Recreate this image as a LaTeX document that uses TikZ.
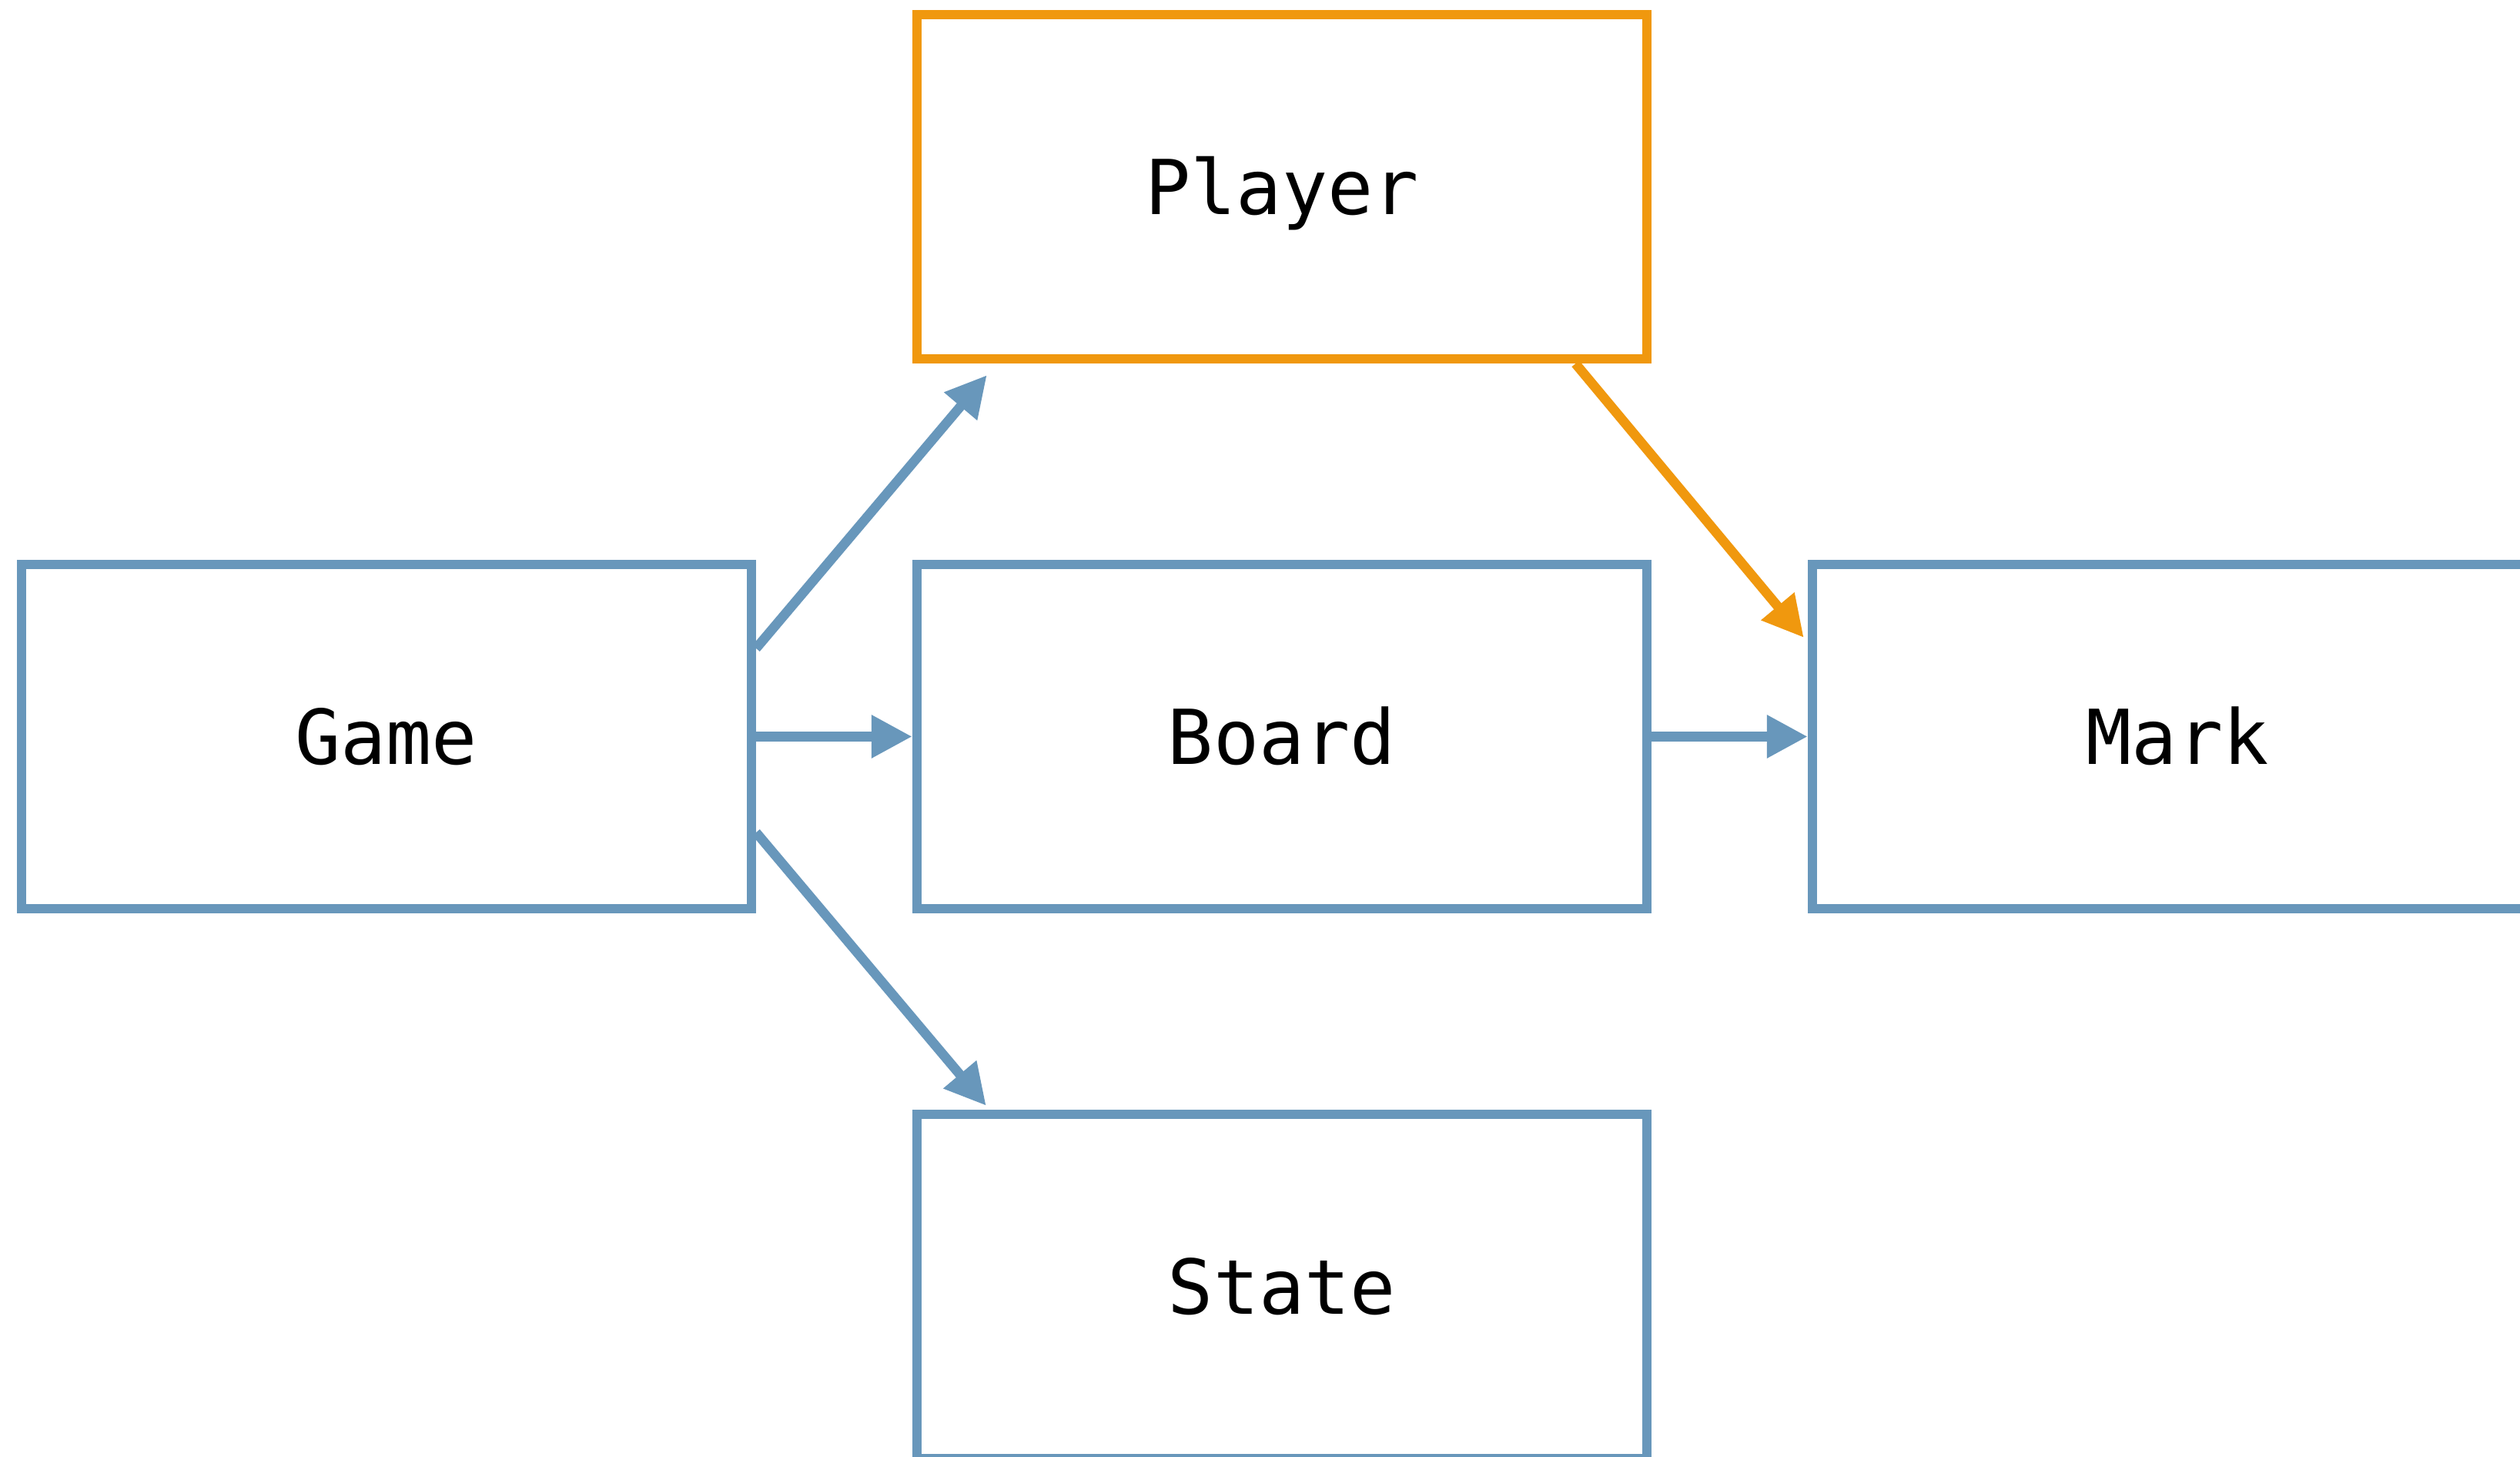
\documentclass[tikz,border=0pt]{standalone}
\usepackage{fontspec}
\setmonofont{DejaVu Sans Mono}
\usetikzlibrary{arrows.meta,calc}
\definecolor{edgeblue}{HTML}{6897BB}
\definecolor{edgeorange}{HTML}{F0980E}
\begin{document}
\begin{tikzpicture}[
  cls/.style={draw=edgeblue, line width=0.125cm, minimum width=9.48cm, minimum height=4.47cm,
    inner sep=0pt, font=\ttfamily\fontsize{28}{30}\selectfont, text height=0.72cm, text depth=0cm},
  hl/.style={draw=edgeorange},
  link/.style={draw=edgeblue, line width=0.125cm, -{Triangle[length=0.53cm,width=0.53cm]}},
  hllink/.style={link, draw=edgeorange},
]
\useasboundingbox (0,0) rectangle (32.73,18.92);
\fill[white] (0,0) rectangle (32.73,18.92);
\node[cls] (Game) at (5.0175,9.355) {Game};
\node[cls, hl] (Player) at (16.65,16.495) {Player};
\node[cls] (Board) at (16.65,9.355) {Board};
\node[cls] (State) at (16.65,2.215) {State};
\node[cls] (Mark) at (28.28,9.355) {Mark};
\draw[link] ($(Game.east)+(0,1.145)$) -- ($(Player.south west)+(0.97,-0.15)$);
\draw[link] (Game.east) -- (Board.west);
\draw[link] ($(Game.east)+(0,-1.245)$) -- ($(State.north west)+(0.96,0.05)$);
\draw[link] (Board.east) -- (Mark.west);
\draw[hllink] ($(Player.south east)+(-0.99,0)$) -- ($(Mark.west)+(-0.05,1.285)$);
\end{tikzpicture}
\end{document}
